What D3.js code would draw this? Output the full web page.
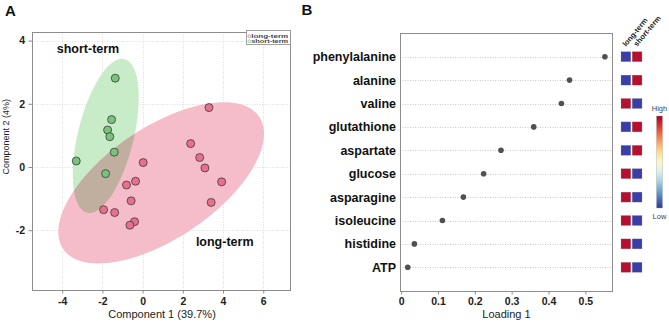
<!DOCTYPE html>
<html><head><meta charset="utf-8">
<script src="https://cdn.jsdelivr.net/npm/d3@7"></script>
<style>
body{margin:0;background:#fff}
svg{display:block;font-family:"Liberation Sans",Arial,sans-serif}
</style></head><body>
<svg id="c" width="669" height="323"></svg>
<script>
// ---------- data ----------
const groups = ["long-term", "short-term"];
const shortX = [-1.36, -1.54, -1.74, -1.63, -1.41, -3.30, -1.84];
const shortY = [2.81, 1.50, 1.17, 0.96, 0.47, 0.19, -0.21];
const longX = [3.30, 2.39, 2.84, 3.10, 3.93, 3.41, 0.03, -0.80, -0.35, -0.57, -1.94, -1.39, -0.40, -0.63];
const longY = [1.88, 0.74, 0.30, -0.03, -0.47, -1.12, 0.14, -0.57, -0.45, -1.07, -1.35, -1.44, -1.73, -1.84];
const xTicksA = [-4, -2, 0, 2, 4, 6];
const yTicksA = [-2, 0, 2, 4];
const metabolites = ["phenylalanine", "alanine", "valine", "glutathione", "aspartate", "glucose", "asparagine", "isoleucine", "histidine", "ATP"];
const loadings = [0.553, 0.457, 0.435, 0.360, 0.271, 0.224, 0.169, 0.112, 0.036, 0.018];
const longLevel = ["low", "low", "high", "low", "low", "high", "high", "high", "high", "high"];
const shortLevel = ["high", "high", "low", "high", "high", "low", "low", "low", "low", "low"];
const xTicksB = [0, 0.1, 0.2, 0.3, 0.4, 0.5];

const svg = d3.select("#c");
const defs = svg.append("defs");

// ---------- Panel A ----------
const A = {l: 32, r: 291, t: 32, b: 290};
const xA = d3.scaleLinear().domain([-5.5, 7.38]).range([A.l, A.r]);
const yA = d3.scaleLinear().domain([-3.89, 4.27]).range([A.b, A.t]);

svg.append("text").attr("x", 5).attr("y", 15.5).attr("font-size", 15).attr("font-weight", "bold").attr("fill", "#111").text("A");

const gA = svg.append("g");
// grid
gA.selectAll(".gx").data(xTicksA).join("line")
  .attr("x1", d => Math.round(xA(d)) + 0.5).attr("x2", d => Math.round(xA(d)) + 0.5)
  .attr("y1", A.t).attr("y2", A.b).attr("stroke", "#dcdcdc").attr("stroke-dasharray", "1,1.5");
gA.selectAll(".gy").data(yTicksA).join("line")
  .attr("y1", d => Math.round(yA(d)) + 0.5).attr("y2", d => Math.round(yA(d)) + 0.5)
  .attr("x1", A.l).attr("x2", A.r).attr("stroke", "#dcdcdc").attr("stroke-dasharray", "1,1.5");

// confidence ellipses (95%)
function ellipsePts(xs, ys) {
  const n = xs.length, mx = d3.mean(xs), my = d3.mean(ys);
  let sxx = 0, syy = 0, sxy = 0;
  for (let i = 0; i < n; i++) { const dx = xs[i] - mx, dy = ys[i] - my; sxx += dx * dx; syy += dy * dy; sxy += dx * dy; }
  sxx /= n - 1; syy /= n - 1; sxy /= n - 1;
  const tr = sxx + syy, det = sxx * syy - sxy * sxy;
  const disc = Math.sqrt(tr * tr / 4 - det);
  const l1 = tr / 2 + disc, l2 = tr / 2 - disc;
  let v1 = [sxy, l1 - sxx]; const nv = Math.hypot(v1[0], v1[1]); v1 = [v1[0] / nv, v1[1] / nv];
  const v2 = [-v1[1], v1[0]];
  const k = Math.sqrt(5.991);
  const a = k * Math.sqrt(l1), b = k * Math.sqrt(l2);
  return d3.range(0, 120).map(i => {
    const t = i / 120 * 2 * Math.PI;
    return [mx + a * Math.cos(t) * v1[0] + b * Math.sin(t) * v2[0], my + a * Math.cos(t) * v1[1] + b * Math.sin(t) * v2[1]];
  });
}
const ell = d3.line().x(d => xA(d[0])).y(d => yA(d[1])).curve(d3.curveLinearClosed);
const shortPath = ell(ellipsePts(shortX, shortY));
const longPath = ell(ellipsePts(longX, longY));
defs.append("clipPath").attr("id", "clipShort").append("path").attr("d", shortPath);
gA.append("path").attr("d", shortPath).attr("fill", "#c8ebc8");
gA.append("path").attr("d", longPath).attr("fill", "#f5bdc9");
gA.append("path").attr("d", longPath).attr("clip-path", "url(#clipShort)").attr("fill", "#c0ae9e");

// points
gA.selectAll(".ps").data(shortX.map((x, i) => [x, shortY[i]])).join("circle")
  .attr("cx", d => xA(d[0])).attr("cy", d => yA(d[1])).attr("r", 4)
  .attr("fill", "#78c47a").attr("stroke", "#3a3a3a").attr("stroke-width", 0.8);
gA.selectAll(".pl").data(longX.map((x, i) => [x, longY[i]])).join("circle")
  .attr("cx", d => xA(d[0])).attr("cy", d => yA(d[1])).attr("r", 4)
  .attr("fill", "#e8708e").attr("stroke", "#3a3a3a").attr("stroke-width", 0.8);

// box
gA.append("rect").attr("x", A.l + 0.5).attr("y", A.t + 0.5).attr("width", A.r - A.l - 1).attr("height", A.b - A.t)
  .attr("fill", "none").attr("stroke", "#8c8c8c");

// axes
const axXA = svg.append("g").attr("transform", `translate(0,${A.b + 0.5})`)
  .call(d3.axisBottom(xA).tickValues(xTicksA).tickSize(3).tickPadding(4).tickFormat(d3.format("d")));
const axYA = svg.append("g").attr("transform", `translate(${A.l + 0.5},0)`)
  .call(d3.axisLeft(yA).tickValues(yTicksA).tickSize(4).tickPadding(3.5).tickFormat(d3.format("d")));
[axXA, axYA].forEach(g => {
  g.select(".domain").remove();
  g.selectAll("line").attr("stroke", "#8c8c8c");
  g.selectAll("text").attr("font-size", 10.5).attr("font-weight", "bold").attr("fill", "#222")
    .attr("font-family", "Liberation Sans, Arial, sans-serif").text(d => d < 0 ? "-" + Math.abs(d) : d);
});

svg.append("text").attr("x", (A.l + A.r) / 2 + 0.5).attr("y", 317.5).attr("text-anchor", "middle")
  .attr("font-size", 11).attr("fill", "#222").text("Component 1 (39.7%)");
svg.append("text").attr("transform", "translate(8.8,136.7) rotate(-90)").attr("text-anchor", "middle")
  .attr("font-size", 9).attr("fill", "#222").text("Component 2 (4%)");

// group annotations
svg.append("text").attr("x", xA(-4.27)).attr("y", yA(3.6)).attr("font-size", 12.5).attr("font-weight", "bold")
  .attr("fill", "#111").text(groups[1]);
svg.append("text").attr("x", xA(2.65)).attr("y", yA(-2.5)).attr("font-size", 12.5).attr("font-weight", "bold")
  .attr("fill", "#111").text(groups[0]);

// legend
const lg = svg.append("g");
lg.append("rect").attr("x", 246.5).attr("y", 30.5).attr("width", 44).attr("height", 14)
  .attr("fill", "#fff").attr("stroke", "#8c8c8c").attr("stroke-width", 0.8);
const legCol = {"long-term": "#e8708e", "short-term": "#78c47a"};
groups.forEach((g, i) => {
  lg.append("circle").attr("cx", 249.3).attr("cy", 36.3 + i * 5).attr("r", 1.4)
    .attr("fill", "none").attr("stroke", legCol[g]).attr("stroke-width", 0.8);
  lg.append("text").attr("x", 251.2).attr("y", 38.3 + i * 5).attr("font-size", 6).attr("font-weight", "bold")
    .attr("fill", "#444").attr("textLength", 37).attr("lengthAdjust", "spacingAndGlyphs").text(g);
});

// ---------- Panel B ----------
const B = {l: 400, r: 613, t: 33.5, b: 291.5};
const xB = d3.scaleLinear().domain([-0.003, 0.575]).range([B.l, B.r]);
const yB = d3.scalePoint().domain(metabolites).range([56.7, 267.3]);

svg.append("text").attr("x", 301.5).attr("y", 14.5).attr("font-size", 15).attr("font-weight", "bold").attr("fill", "#111").text("B");

svg.selectAll(".gb").data(metabolites).join("line")
  .attr("x1", B.l).attr("x2", B.r).attr("y1", d => Math.round(yB(d)) + 0.5).attr("y2", d => Math.round(yB(d)) + 0.5)
  .attr("stroke", "#c8c8c8").attr("stroke-dasharray", "1,1.5");
svg.selectAll(".db").data(metabolites).join("circle")
  .attr("cx", (d, i) => xB(loadings[i])).attr("cy", d => yB(d)).attr("r", 2.8).attr("fill", "#505050");

svg.append("rect").attr("x", B.l + 0.5).attr("y", B.t).attr("width", B.r - B.l - 1).attr("height", B.b - B.t)
  .attr("fill", "none").attr("stroke", "#8c8c8c");

const axXB = svg.append("g").attr("transform", `translate(0,${B.b})`)
  .call(d3.axisBottom(xB).tickValues(xTicksB).tickSize(3).tickPadding(3.5).tickFormat(d => d === 0 ? "0" : d3.format(".1f")(d)));
axXB.select(".domain").remove();
axXB.selectAll("line").attr("stroke", "#8c8c8c");
axXB.selectAll("text").attr("font-size", 10.5).attr("font-weight", "bold").attr("fill", "#222").attr("font-family", "Liberation Sans, Arial, sans-serif");

const axYB = svg.append("g").attr("transform", `translate(${B.l},0)`)
  .call(d3.axisLeft(yB).tickSize(0).tickPadding(4));
axYB.select(".domain").remove();
axYB.selectAll("text").attr("font-size", 12.5).attr("font-weight", "bold").attr("fill", "#111").attr("font-family", "Liberation Sans, Arial, sans-serif");

svg.append("text").attr("x", (B.l + B.r) / 2).attr("y", 317.5).attr("text-anchor", "middle")
  .attr("font-size", 11).attr("fill", "#222").text("Loading 1");

// heatmap
const xH = d3.scaleBand().domain(groups).range([621, 642]).paddingInner(0.12);
const levelColor = d3.scaleOrdinal().domain(["high", "low"]).range(["#b70f30", "#3a3ea8"]);
const levels = {"long-term": longLevel, "short-term": shortLevel};
groups.forEach(g => {
  svg.selectAll(".h" + g).data(metabolites).join("rect")
    .attr("x", xH(g)).attr("y", d => yB(d) - 5).attr("width", xH.bandwidth()).attr("height", 10)
    .attr("fill", (d, i) => levelColor(levels[g][i])).attr("stroke", "#999").attr("stroke-width", 0.3);
  svg.append("text").attr("transform", `translate(${xH(g) + xH.bandwidth() / 2},47) rotate(-50)`)
    .attr("font-size", 7.5).attr("font-weight", "bold").attr("fill", "#222").text(g);
});

// color bar
const grad = defs.append("linearGradient").attr("id", "cb").attr("x1", 0).attr("x2", 0).attr("y1", 0).attr("y2", 1);
d3.range(0, 1.0001, 0.1).forEach(t => grad.append("stop").attr("offset", t).attr("stop-color", d3.interpolateRdYlBu(t)));
svg.append("rect").attr("x", 656.5).attr("y", 116).attr("width", 6).attr("height", 92)
  .attr("fill", "url(#cb)").attr("stroke", "#aaa").attr("stroke-width", 0.4);
svg.append("text").attr("x", 659.5).attr("y", 110.5).attr("text-anchor", "middle").attr("font-size", 7.5).attr("fill", "#444").text("High");
svg.append("text").attr("x", 659.5).attr("y", 219).attr("text-anchor", "middle").attr("font-size", 7.5).attr("fill", "#444").text("Low");
</script>
</body></html>
